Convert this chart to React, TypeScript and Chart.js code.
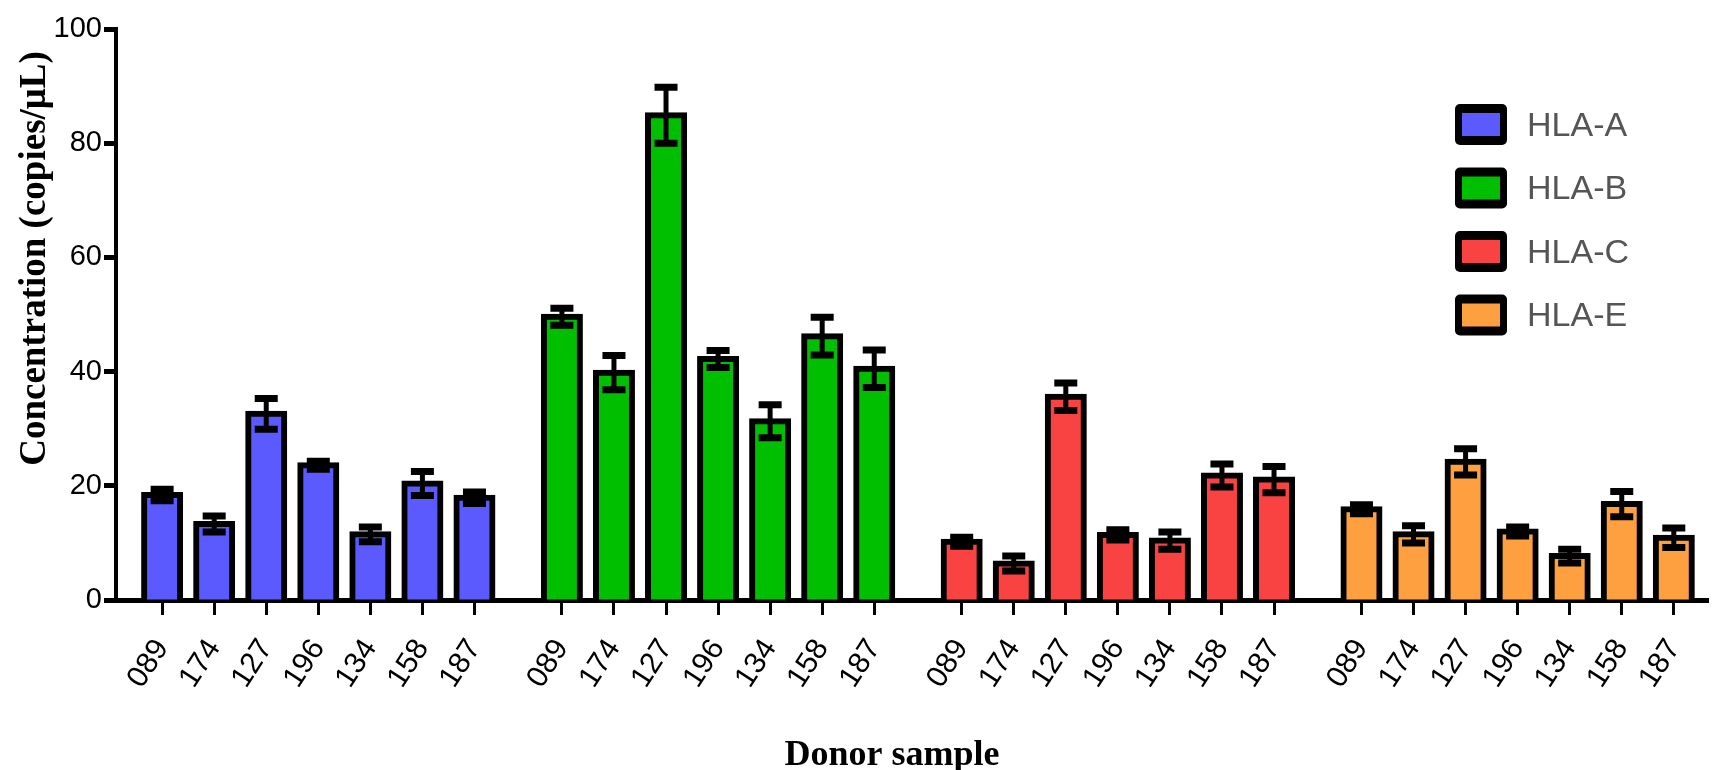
import React, { useEffect, useRef } from 'react';
import { Chart, registerables } from 'chart.js';

Chart.register(...registerables);

// ---- data ----
const samples = ['089', '174', '127', '196', '134', '158', '187'];
const alleles = ['HLA-A', 'HLA-B', 'HLA-C', 'HLA-E'];
const hlaA = [18.4, 13.3, 32.6, 23.6, 11.5, 20.4, 17.9];
const hlaAErr = [1.0, 1.4, 2.7, 0.7, 1.3, 2.1, 1.0];
const hlaB = [49.6, 39.8, 84.9, 42.2, 31.3, 46.2, 40.5];
const hlaBErr = [1.5, 3.0, 4.9, 1.5, 2.9, 3.3, 3.3];
const hlaC = [10.2, 6.4, 35.6, 11.4, 10.4, 21.8, 21.1];
const hlaCErr = [0.8, 1.3, 2.4, 0.9, 1.5, 2.0, 2.3];
const hlaE = [15.9, 11.5, 24.2, 12.0, 7.7, 16.8, 10.9];
const hlaEErr = [0.8, 1.5, 2.3, 0.8, 1.2, 2.2, 1.7];
const yTicks = [0, 20, 40, 60, 80, 100];
const yTitle = 'Concentration (copies/μL)';
const xTitle = 'Donor sample';

const values = [hlaA, hlaB, hlaC, hlaE];
const errors = [hlaAErr, hlaBErr, hlaCErr, hlaEErr];

// ---- style / layout ----
const colors = ['#5A5AFF', '#00BF00', '#F94343', '#FFA040'];
const GROUP_STRIDE = 7.68;
const SANS = '"Liberation Sans", Arial, sans-serif';
const SERIF = '"Liberation Serif", "Times New Roman", serif';

const pos = (g: number, i: number) => g * GROUP_STRIDE + i;
const tickPositions: number[] = [];
alleles.forEach((_, g) => samples.forEach((__, i) => tickPositions.push(pos(g, i))));

const errorBarPlugin = {
  id: 'errorBars',
  afterDatasetsDraw(chart: any, _args: any, o: any) {
    const { ctx } = chart;
    const yScale = chart.scales.y;
    chart.data.datasets.forEach((ds: any, di: number) => {
      const meta = chart.getDatasetMeta(di);
      meta.data.forEach((bar: any, i: number) => {
        const v = ds.data[i].y;
        const e = ds.errors[i];
        const yTop = yScale.getPixelForValue(v + e);
        const yBot = yScale.getPixelForValue(v - e);
        ctx.save();
        ctx.strokeStyle = '#000';
        ctx.lineWidth = o.lineWidth;
        ctx.beginPath();
        ctx.moveTo(bar.x, yTop);
        ctx.lineTo(bar.x, yBot);
        ctx.stroke();
        ctx.lineWidth = o.capThickness;
        ctx.beginPath();
        ctx.moveTo(bar.x - o.capWidth / 2, yTop);
        ctx.lineTo(bar.x + o.capWidth / 2, yTop);
        ctx.moveTo(bar.x - o.capWidth / 2, yBot);
        ctx.lineTo(bar.x + o.capWidth / 2, yBot);
        ctx.stroke();
        ctx.restore();
      });
    });
  },
};

const boxLegendPlugin = {
  id: 'boxLegend',
  afterDraw(chart: any, _args: any, o: any) {
    const { ctx } = chart;
    chart.data.datasets.forEach((ds: any, i: number) => {
      const cy = o.top + i * o.rowGap;
      const y0 = cy - o.boxH / 2;
      ctx.save();
      ctx.fillStyle = '#000';
      ctx.beginPath();
      ctx.roundRect(o.left, y0, o.boxW, o.boxH, o.radius);
      ctx.fill();
      ctx.fillStyle = ds.backgroundColor;
      ctx.fillRect(o.left + o.insetX, y0 + o.insetY, o.boxW - 2 * o.insetX, o.boxH - 2 * o.insetY);
      ctx.font = `${o.fontSize}px ${SANS}`;
      ctx.fillStyle = o.color;
      ctx.textAlign = 'left';
      ctx.textBaseline = 'alphabetic';
      ctx.fillText(ds.label, o.left + o.boxW + o.gap, cy + o.baselineOffset);
      ctx.restore();
    });
  },
};

const axisTitlesPlugin = {
  id: 'axisTitles',
  afterDraw(chart: any, _args: any, o: any) {
    const { ctx } = chart;
    ctx.save();
    ctx.fillStyle = '#000';
    ctx.textAlign = 'center';
    ctx.textBaseline = 'alphabetic';
    ctx.font = `bold ${o.y.size}px ${SERIF}`;
    ctx.translate(o.y.x, o.y.y);
    ctx.rotate(-Math.PI / 2);
    ctx.fillText(o.y.text, 0, 0);
    ctx.restore();
    ctx.save();
    ctx.fillStyle = '#000';
    ctx.textAlign = 'center';
    ctx.textBaseline = 'alphabetic';
    ctx.font = `bold ${o.x.size}px ${SERIF}`;
    ctx.fillText(o.x.text, o.x.x, o.x.y);
    ctx.restore();
  },
};

export default function App() {
  const ref = useRef<HTMLCanvasElement | null>(null);

  useEffect(() => {
    document.body.style.margin = '0';
    const canvas = ref.current;
    if (!canvas) return;
    const chart = new Chart(canvas, {
      type: 'bar',
      data: {
        datasets: alleles.map((label, g) => ({
          label,
          data: samples.map((_, i) => ({ x: pos(g, i), y: values[g][i] })),
          errors: errors[g],
          backgroundColor: colors[g],
          borderColor: '#000',
          borderWidth: 6,
          borderSkipped: 'start',
          barThickness: 36,
          inflateAmount: 3,
          grouped: false,
        })) as any,
      },
      options: {
        animation: false,
        responsive: false,
        devicePixelRatio: 1,
        layout: { padding: { top: 29, left: 0, right: 0, bottom: 0 } },
        scales: {
          x: {
            type: 'linear',
            min: -0.886,
            max: 29.705,
            offset: false,
            z: 1,
            afterBuildTicks: (s: any) => {
              s.ticks = tickPositions.map((v) => ({ value: v }));
            },
            afterFit: (s: any) => {
              s.height = 170;
            },
            ticks: {
              autoSkip: false,
              minRotation: 57,
              maxRotation: 57,
              padding: 18,
              color: '#000',
              font: { family: SANS, size: 30 },
              callback: (_v: any, i: number) => samples[i % samples.length],
            },
            grid: {
              display: true,
              offset: false,
              drawOnChartArea: false,
              drawTicks: true,
              tickLength: 15,
              tickWidth: 3,
              tickColor: '#000',
            },
            border: { display: true, color: '#000', width: 5 },
          },
          y: {
            type: 'linear',
            min: 0,
            max: 100,
            afterBuildTicks: (s: any) => {
              s.ticks = yTicks.map((v) => ({ value: v }));
            },
            afterFit: (s: any) => {
              s.width = 116;
            },
            ticks: {
              padding: 2,
              color: '#000',
              font: { family: SANS, size: 29 },
            },
            grid: {
              display: true,
              drawOnChartArea: false,
              drawTicks: true,
              tickLength: 12,
              tickWidth: 5,
              tickColor: '#000',
            },
            border: { display: true, color: '#000', width: 4 },
          },
        },
        plugins: {
          legend: { display: false },
          tooltip: { enabled: false },
          errorBars: { lineWidth: 5, capThickness: 7, capWidth: 23 },
          boxLegend: {
            left: 1455,
            top: 124.5,
            rowGap: 63.5,
            boxW: 52,
            boxH: 41,
            radius: 5,
            insetX: 7,
            insetY: 9,
            gap: 20,
            fontSize: 34,
            baselineOffset: 11,
            color: '#555555',
          },
          axisTitles: {
            y: { text: yTitle, x: 45, y: 258.5, size: 37 },
            x: { text: xTitle, x: 892, y: 765, size: 36 },
          },
        } as any,
      },
      plugins: [errorBarPlugin, boxLegendPlugin, axisTitlesPlugin],
    } as any);
    return () => chart.destroy();
  }, []);

  return (
    <div style={{ width: 1722, height: 770 }}>
      <canvas ref={ref} width={1722} height={770} style={{ display: 'block' }} />
    </div>
  );
}
